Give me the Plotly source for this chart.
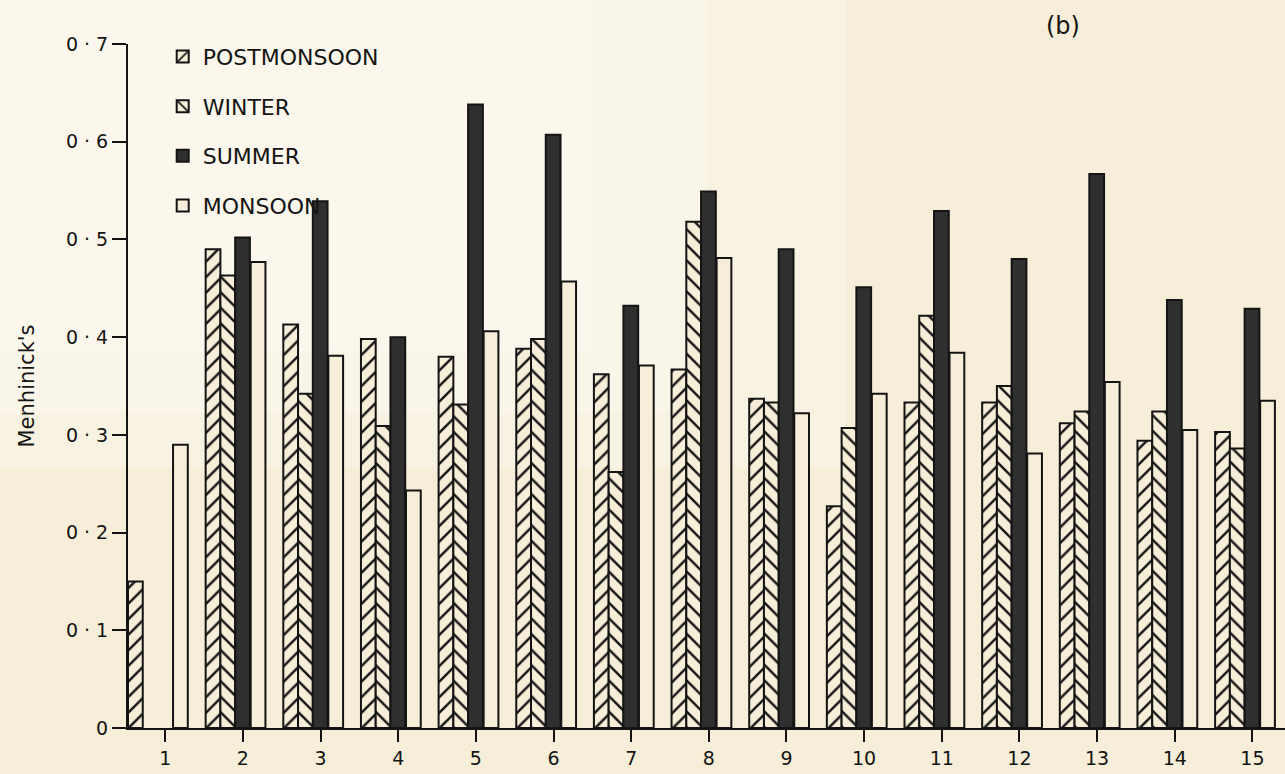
import plotly.graph_objects as go

# Stations and Menhinick's index per season
stations = list(range(1, 16))
tick_labels = [str(s) for s in stations]

postmonsoon = [0.15, 0.49, 0.413, 0.398, 0.38, 0.388, 0.362, 0.367, 0.337, 0.227, 0.333, 0.333, 0.312, 0.294, 0.303]
winter      = [None, 0.463, 0.342, 0.309, 0.331, 0.398, 0.262, 0.518, 0.333, 0.307, 0.422, 0.35, 0.324, 0.324, 0.286]
summer      = [None, 0.502, 0.539, 0.40, 0.638, 0.607, 0.432, 0.549, 0.49, 0.451, 0.529, 0.48, 0.567, 0.438, 0.429]
monsoon     = [0.29, 0.477, 0.381, 0.243, 0.406, 0.457, 0.371, 0.481, 0.322, 0.342, 0.384, 0.281, 0.354, 0.305, 0.335]

y_ticks = [0, 0.1, 0.2, 0.3, 0.4, 0.5, 0.6, 0.7]
y_tick_text = ["0", "0 · 1", "0 · 2", "0 · 3", "0 · 4", "0 · 5", "0 · 6", "0 · 7"]

PAPER = "#f6eed8"
INK = "#141414"
FONT = "DejaVu Sans"
BAR_W = 0.19

fig = go.Figure()

def add_bar(name, values, offset, fill, pattern_shape=None):
    marker = dict(color=fill, line=dict(color=INK, width=2))
    if pattern_shape:
        marker["pattern"] = dict(shape=pattern_shape, fgcolor=INK, bgcolor=PAPER,
                                 size=11, solidity=0.22, fillmode="replace")
    fig.add_trace(go.Bar(
        x=stations, y=values, name=name, marker=marker,
        width=BAR_W, offset=offset, legendgroup=name,
    ))

add_bar("POSTMONSOON", postmonsoon, -0.48, PAPER, "/")
add_bar("WINTER", winter, -0.29, PAPER, "\\")
add_bar("SUMMER", summer, -0.10, "#2f2f2f")
add_bar("MONSOON", monsoon, 0.10, PAPER)

# lighter, washed-out upper-left part of the page
for x1, y0, op in [(0.62, 0.38, 0.25), (0.5, 0.46, 0.25), (0.4, 0.55, 0.2)]:
    fig.add_shape(type="rect", xref="paper", yref="paper", x0=-0.12, x1=x1, y0=y0, y1=1.08,
                  fillcolor="white", opacity=op, line_width=0, layer="below")

fig.add_annotation(text="(b)", xref="paper", yref="paper", x=0.792, y=1.05,
                   xanchor="left", yanchor="top", showarrow=False,
                   font=dict(family=FONT, size=24, color=INK))

fig.update_layout(
    width=1285, height=774,
    margin=dict(l=128, r=0, t=44, b=46),
    paper_bgcolor=PAPER, plot_bgcolor="rgba(0,0,0,0)",
    barmode="overlay",
    showlegend=True,
    legend=dict(x=0.03, y=1.012, xanchor="left", yanchor="top",
                bgcolor="rgba(0,0,0,0)", font=dict(family=FONT, size=22, color=INK),
                traceorder="grouped", tracegroupgap=18, itemwidth=30),
    font=dict(family=FONT, color=INK),
    xaxis=dict(range=[0.52, 15.42], tickvals=stations, ticktext=tick_labels,
               showgrid=False, zeroline=False, showline=True, linecolor=INK, linewidth=2,
               ticks="outside", ticklen=12, tickwidth=2, tickcolor=INK,
               tickfont=dict(family=FONT, size=19, color=INK)),
    yaxis=dict(range=[0, 0.7], tickvals=y_ticks, ticktext=y_tick_text,
               showgrid=False, zeroline=False, showline=True, linecolor=INK, linewidth=2,
               ticks="outside", ticklen=14, tickwidth=2, tickcolor=INK,
               tickfont=dict(family=FONT, size=19, color=INK),
               title=dict(text="Menhinick's", font=dict(family=FONT, size=21, color=INK), standoff=26)),
)

fig.write_html("out.html")
